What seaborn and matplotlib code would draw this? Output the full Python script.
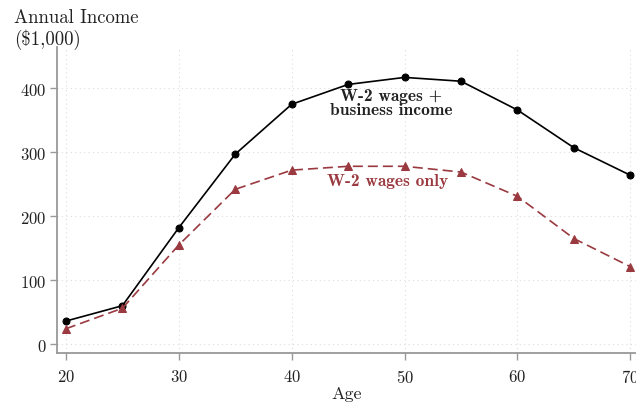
import numpy as np
import pandas as pd
import matplotlib
matplotlib.use("Agg")
import matplotlib.pyplot as plt
import seaborn as sns

ages = [20, 25, 30, 35, 40, 45, 50, 55, 60, 65, 70]
wages_business = [36, 60, 182, 297, 375, 406, 417, 411, 366, 307, 264]
wages_only = [24, 56, 155, 242, 272, 278, 278, 269, 231, 165, 121]

RED = "#9a3a40"

sns.set_theme(style="white")
plt.rcParams["font.family"] = ["cmr10", "DejaVu Serif"]
plt.rcParams["axes.formatter.use_mathtext"] = True

df = pd.DataFrame({
    "age": ages * 2,
    "income": wages_business + wages_only,
    "series": ["both"] * len(ages) + ["w2"] * len(ages),
})

fig = plt.figure(figsize=(6.36, 4.06), dpi=100)
ax = fig.add_axes([0.090, 0.128, 0.910, 0.7545])

sns.lineplot(data=df[df.series == "both"], x="age", y="income", ax=ax,
             color="black", lw=1.2, marker="o", markersize=5,
             markeredgecolor="black", zorder=3)
sns.lineplot(data=df[df.series == "w2"], x="age", y="income", ax=ax,
             color=RED, lw=1.2, ls=(0, (6, 3)), marker="^", markersize=6,
             markeredgecolor=RED, zorder=3)

ax.set_xlim(19.23, 70.5)
ax.set_ylim(-14, 465)
ax.set_xticks([20, 30, 40, 50, 60, 70])
ax.set_yticks([0, 100, 200, 300, 400])

ax.grid(True, which="major", color="#dddddd", ls=(0, (1, 3)), lw=0.8)

for s in ["top", "right"]:
    ax.spines[s].set_visible(False)
for s in ["left", "bottom"]:
    ax.spines[s].set_color("#999999")
    ax.spines[s].set_linewidth(1.3)

ax.tick_params(axis="both", which="major", direction="out", length=5, width=1,
               color="#999999", labelsize=12, labelcolor="#222222", pad=3,
               left=True, bottom=True)
ax.tick_params(axis="x", pad=6)

ax.set_xlabel("Age", fontsize=13, color="#222222", labelpad=0)
ax.set_ylabel("")
fig.text(0.022, 0.978, "Annual Income\n(\\$1,000)", ha="left", va="top",
         fontsize=13.5, color="#222222", linespacing=1.15)

ax.text(48.8, 378, "W-2 wages +\nbusiness income", ha="center", va="center",
        fontsize=12.5, color="#222222", family="cmb10", linespacing=0.95)
ax.text(48.5, 256, "W-2 wages only", ha="center", va="center",
        fontsize=12.5, color=RED, family="cmb10")

fig.savefig("out.png", dpi=100)
